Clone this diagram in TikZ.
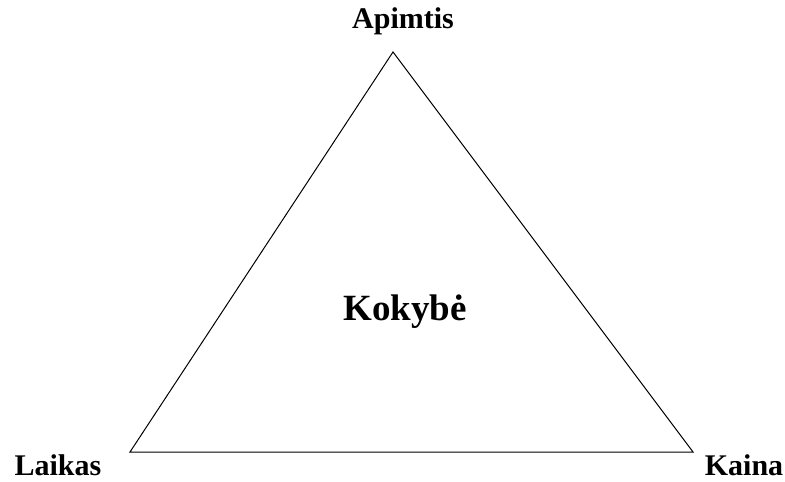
\documentclass[tikz,border=0pt]{standalone}
\usepackage{fontspec}
\setmainfont{Liberation Serif}
\begin{document}
\begin{tikzpicture}[x=1pt,y=-1pt,
  lbl/.style={font=\bfseries\fontsize{30}{34}\selectfont, anchor=base, inner sep=0pt},
  big/.style={font=\bfseries\fontsize{37}{41}\selectfont, anchor=base, inner sep=0pt},
  edge/.style={line width=1pt, line join=miter}]
\useasboundingbox (0,0) rectangle (785,482);
\coordinate (top) at (393,52);
\coordinate (bl) at (130,452);
\coordinate (br) at (693,452);
\draw[edge] (top) -- (bl) -- (br) -- cycle;
\node[lbl] (apimtis) at (403,28) {Apimtis};
\node[lbl] (laikas) at (58,475) {Laikas};
\node[lbl] (kaina) at (744,475) {Kaina};
\node[big] (kokybe) at (405,320) {Kokybė};
\end{tikzpicture}
\end{document}
